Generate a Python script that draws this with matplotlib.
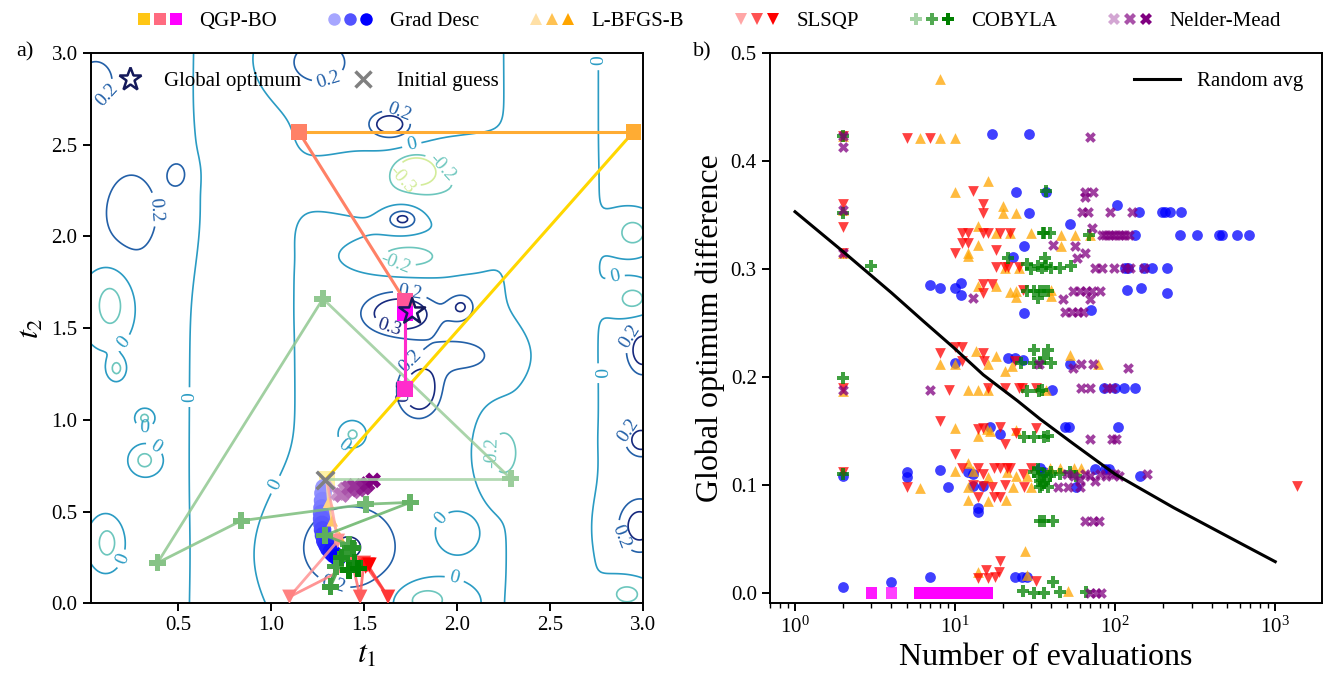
import numpy as np
import matplotlib
matplotlib.use('agg')
import matplotlib.pyplot as plt
from matplotlib.colors import LinearSegmentedColormap, to_rgb
from matplotlib.legend_handler import HandlerTuple
from matplotlib.lines import Line2D
from matplotlib.ticker import FormatStrFormatter

plt.rcParams.update({
    'font.family': 'serif', 'font.serif': ['Liberation Serif', 'DejaVu Serif'],
    'mathtext.fontset': 'stix', 'font.size': 15,
    'axes.linewidth': 1.4,
    'xtick.major.width': 1.4, 'ytick.major.width': 1.4,
    'xtick.minor.width': 1.0, 'xtick.major.size': 6, 'ytick.major.size': 6,
    'xtick.minor.size': 3.5,
})

# ---- landscape features (panel a) ----
# peaks / wells: centre (t1, t2), height, widths
bump_t1 = [0.25, 0.50, 0.05, 1.25, 1.64, 1.71, 1.70, 2.03, 1.80, 2.05, 1.40, 3.00, 2.99, 2.98,
           1.78, 1.80, 1.73, 0.14, 2.25, 1.83, 2.95, 2.95, 0.12, 0.32, 1.44, 1.97, 2.92, 0.17, 0.32,
           0.25, 0.83, 1.60, 2.55, 3.00]
bump_t2 = [2.13, 2.34, 2.85, 2.95, 2.61, 2.10, 1.58, 1.62, 1.15, 1.35, 0.30, 1.38, 0.89, 0.42,
           2.37, 2.28, 1.89, 1.63, 0.82, 0.02, 1.66, 2.02, 0.33, 0.78, 0.92, 0.38, 0.05, 1.28, 1.01,
           1.50, 1.30, 1.50, 1.50, 1.50]
bump_amp = [0.20, 0.22, 0.25, 0.27, 0.36, 0.36, 0.36, 0.25, 0.36, 0.22, 0.28, 0.30, 0.30, 0.30,
            -0.42, -0.26, -0.32, -0.36, -0.30, -0.33, -0.34, -0.34, -0.34, -0.34, -0.30, -0.15,
            -0.30, -0.34, -0.34,
            0.08, -0.08, 0.06, -0.07, 0.08]
bump_s1 = [0.165, 0.045, 0.10, 0.16, 0.09, 0.07, 0.16, 0.06, 0.09, 0.18, 0.26, 0.07, 0.07, 0.10,
           0.07, 0.30, 0.18, 0.08, 0.07, 0.11, 0.08, 0.08, 0.05, 0.05, 0.04, 0.07, 0.08, 0.03, 0.03,
           0.20, 0.17, 0.30, 0.13, 0.14]
bump_s2 = [0.23, 0.06, 0.12, 0.12, 0.06, 0.05, 0.09, 0.06, 0.11, 0.10, 0.22, 0.10, 0.07, 0.12,
           0.05, 0.12, 0.07, 0.14, 0.12, 0.07, 0.07, 0.08, 0.08, 0.05, 0.04, 0.07, 0.06, 0.04, 0.03,
           1.30, 1.20, 1.20, 1.30, 1.30]
contour_levels = [-0.3, -0.2, 0.0, 0.2, 0.3]
contour_colors = ['#d3ec9a', '#6cc6bd', '#2a9bc3', '#2360a8', '#17297e']

# ---- optimiser trajectories (panel a) ----
init_guess = (1.29, 0.67)
global_opt = (1.76, 1.59)
qgp_t1 = [1.30, 2.95, 1.15, 1.72, 1.72, 1.72]
qgp_t2 = [0.68, 2.57, 2.57, 1.65, 1.17, 1.58]
gd_t1 = [1.29, 1.285, 1.28, 1.278, 1.275, 1.273, 1.273, 1.275, 1.278, 1.283, 1.29, 1.30, 1.31, 1.325, 1.34, 1.36]
gd_t2 = [0.66, 0.63, 0.60, 0.56, 0.52, 0.49, 0.46, 0.43, 0.40, 0.37, 0.34, 0.32, 0.30, 0.28, 0.265, 0.25]
lb_t1 = [1.30, 1.31, 1.33, 1.37, 1.41, 1.44]
lb_t2 = [0.68, 0.55, 0.45, 0.36, 0.28, 0.22]
sl_t1 = [1.30, 1.36, 1.10, 1.44, 1.48, 1.50, 1.63, 1.52, 1.51, 1.53]
sl_t2 = [0.68, 0.34, 0.035, 0.21, 0.035, 0.22, 0.035, 0.21, 0.20, 0.21]
co_t1 = [1.30, 2.29, 1.28, 0.39, 0.84, 1.51, 1.75, 1.29, 1.42, 1.35, 1.32, 1.40, 1.44, 1.38, 1.45, 1.42, 1.47]
co_t2 = [0.68, 0.68, 1.66, 0.22, 0.45, 0.54, 0.55, 0.37, 0.32, 0.20, 0.09, 0.27, 0.30, 0.25, 0.22, 0.18, 0.19]
nm_t1 = [1.30, 1.36, 1.40, 1.38, 1.44, 1.42, 1.47, 1.45, 1.50, 1.52, 1.55]
nm_t2 = [0.68, 0.60, 0.62, 0.59, 0.61, 0.63, 0.62, 0.64, 0.63, 0.65, 0.67]

# ---- panel b: (number of evaluations, global optimum difference) ----
qgp_pts = [(3, 0), (4, 0), (6, 0), (7, 0), (8, 0), (9, 0), (10, 0), (11, 0), (12, 0),
           (13, 0), (14, 0), (15, 0), (16, 0)]
gd_pts = [(2, 0.108), (2, 0.006), (4, 0.010), (7, 0.015), (5, 0.112), (5, 0.107), (8, 0.114),
          (9, 0.098), (10, 0.213), (12, 0.112), (13, 0.110), (13, 0.099), (15, 0.099),
          (14, 0.079), (14, 0.075), (16.5, 0.154), (19, 0.147), (21.4, 0.218), (23.7, 0.218),
          (26.4, 0.216), (23.7, 0.015), (26, 0.015), (28, 0.015), (34, 0.116), (36, 0.112),
          (17, 0.425), (29, 0.425), (24, 0.371), (37, 0.371), (29, 0.352), (27, 0.321),
          (23, 0.311), (7, 0.285), (8, 0.282), (10, 0.282), (10.9, 0.287), (10.9, 0.276),
          (27, 0.259), (40.5, 0.188), (52, 0.212), (48.6, 0.154), (51.8, 0.154), (103.5, 0.154),
          (85, 0.19), (100, 0.19), (113, 0.19), (133, 0.19), (75, 0.115), (87, 0.115),
          (91, 0.115), (57, 0.098), (143, 0.108), (103, 0.359), (140, 0.353), (196, 0.353),
          (206, 0.353), (221, 0.353), (256, 0.353), (52, 0.342), (133, 0.331), (255, 0.331),
          (325, 0.331), (443, 0.331), (466, 0.331), (578, 0.331), (684, 0.331), (115, 0.301),
          (120, 0.301), (151, 0.301), (170, 0.301), (212, 0.301), (119, 0.281), (144, 0.282),
          (210, 0.278), (71, 0.262)]
lb_pts = [(2, 0.423), (2, 0.355), (2, 0.315), (2, 0.187), (6, 0.421), (8, 0.421), (10, 0.421),
          (8, 0.476), (16, 0.381), (10, 0.371), (20, 0.358), (20, 0.352), (24, 0.352),
          (14, 0.340), (18, 0.333), (22, 0.333), (30, 0.333), (46, 0.331), (56, 0.331),
          (70, 0.331), (46, 0.321), (14, 0.322), (12, 0.315), (12, 0.312), (20.6, 0.301),
          (25, 0.301), (14, 0.284), (18, 0.284), (22, 0.279), (24, 0.274), (24, 0.280),
          (40, 0.281), (40, 0.275), (8, 0.212), (10, 0.212), (13.6, 0.224), (16, 0.212),
          (18, 0.219), (20.6, 0.206), (22.6, 0.21), (52, 0.220), (78, 0.212), (12, 0.188),
          (14, 0.188), (16, 0.188), (37, 0.188), (10, 0.153), (14, 0.145), (15.8, 0.152),
          (16.5, 0.150), (24, 0.151), (6, 0.097), (10, 0.113), (12, 0.120), (13, 0.113),
          (16, 0.107), (21, 0.112), (24, 0.108), (28, 0.108), (12, 0.098), (23, 0.098),
          (30, 0.098), (39, 0.116), (45, 0.116), (55, 0.116), (61, 0.116), (12, 0.0865),
          (16, 0.085), (20.8, 0.0865), (27.5, 0.039), (14, 0.019), (28, 0.0165), (51, 0.002)]
sl_pts = [(2, 0.423), (2, 0.36), (2, 0.339), (2, 0.315), (2, 0.112), (2, 0.19), (5, 0.421),
          (7, 0.421), (13, 0.372), (15, 0.360), (15, 0.352), (11, 0.333), (12, 0.333),
          (15, 0.333), (16, 0.333), (19, 0.333), (22, 0.333), (11, 0.324), (12, 0.324),
          (10, 0.315), (18, 0.318), (18, 0.302), (20.6, 0.302), (21.4, 0.302), (25.2, 0.302),
          (15, 0.286), (15, 0.278), (17, 0.286), (26.4, 0.281), (8, 0.222), (10, 0.228),
          (11, 0.228), (11, 0.215), (15, 0.222), (15.2, 0.215), (23.7, 0.215), (9.2, 0.188),
          (16, 0.19), (20.6, 0.19), (25, 0.19), (26, 0.19), (32, 0.19), (8, 0.159), (14, 0.152),
          (15, 0.153), (19, 0.154), (20.6, 0.138), (24, 0.148), (32, 0.153), (5, 0.098),
          (10, 0.1285), (11, 0.116), (14, 0.116), (15, 0.110), (17.6, 0.116), (19, 0.116),
          (21, 0.116), (22, 0.116), (26.5, 0.110), (30, 0.116), (13, 0.10), (15, 0.099),
          (17, 0.098), (20.6, 0.1), (27, 0.098), (14, 0.089), (17.5, 0.089), (19, 0.089),
          (19, 0.030), (14, 0.014), (15.7, 0.0215), (16, 0.014), (17.8, 0.015), (18.8, 0.019),
          (32, 0.011), (1360, 0.099)]
co_pts = [(2, 0.423), (2, 0.352), (2, 0.199), (2, 0.110), (3, 0.303), (37, 0.372), (36, 0.333),
          (35.5, 0.333), (39, 0.333), (69, 0.331), (21.4, 0.310), (36.7, 0.310), (28, 0.305),
          (30, 0.300), (33, 0.303), (35, 0.301), (37, 0.303), (40, 0.301), (45, 0.301),
          (53, 0.303), (28, 0.28), (31, 0.28), (34, 0.28), (33, 0.273), (36, 0.28), (38, 0.28),
          (31, 0.225), (38.2, 0.225), (25.7, 0.213), (31, 0.213), (34, 0.213), (36, 0.218),
          (40, 0.213), (28, 0.187), (33.5, 0.187), (35, 0.188), (27, 0.144), (31, 0.144),
          (36, 0.144), (38, 0.145), (31, 0.112), (33, 0.108), (34, 0.104), (35, 0.100),
          (36, 0.110), (37, 0.105), (38, 0.098), (34, 0.098), (36, 0.102), (39, 0.108),
          (40, 0.112), (33, 0.115), (45, 0.110), (52, 0.112), (57, 0.108), (34, 0.067),
          (36, 0.067), (41, 0.067), (26.5, 0.002), (31, 0.0), (36, 0.0), (41, 0.010),
          (45, 0.001), (66, 0.001)]
nm_pts = [(2, 0.423), (2, 0.413), (2, 0.355), (2, 0.315), (2, 0.188), (70, 0.422), (65, 0.371),
          (65, 0.367), (73, 0.371), (61.8, 0.353), (68, 0.353), (93, 0.353), (127, 0.353),
          (71.5, 0.338), (83, 0.331), (87, 0.331), (91, 0.331), (95, 0.331), (100, 0.331),
          (105, 0.331), (110, 0.331), (116, 0.331), (122, 0.331), (41, 0.322), (56, 0.321),
          (65, 0.315), (57.5, 0.310), (75, 0.301), (82.6, 0.301), (97.8, 0.301), (115, 0.301),
          (124, 0.301), (151, 0.301), (13, 0.273), (54.8, 0.28), (60, 0.28), (66, 0.28),
          (72, 0.28), (80, 0.28), (47, 0.272), (70, 0.272), (48.6, 0.26), (53.5, 0.26),
          (58.9, 0.26), (63.3, 0.26), (7, 0.188), (33.5, 0.212), (54.8, 0.2085), (61, 0.212),
          (73, 0.212), (121, 0.2085), (61, 0.19), (70, 0.19), (88.7, 0.19), (95, 0.19),
          (70, 0.143), (95, 0.143), (101, 0.143), (44, 0.098), (51, 0.098), (50, 0.110),
          (55, 0.108), (60, 0.105), (65, 0.110), (70, 0.108), (75, 0.104), (80, 0.110),
          (88, 0.108), (95, 0.110), (100, 0.110), (105, 0.108), (158, 0.110), (60, 0.098),
          (65, 0.067), (73, 0.067), (79, 0.067), (70, 0.0), (76, 0.0), (81, 0.0)]
rand_evals = [1, 2, 4, 6.3, 10, 15, 24.5, 34, 55, 100, 232, 375, 607, 1000]
rand_diff = [0.353, 0.316, 0.278, 0.252, 0.226, 0.202, 0.178, 0.161, 0.138, 0.110, 0.079,
             0.0625, 0.046, 0.029]

methods = ['QGP-BO', 'Grad Desc', 'L-BFGS-B', 'SLSQP', 'COBYLA', 'Nelder-Mead']
markers = ['s', 'o', '^', 'v', 'P', 'X']
base_cols = ['#ff00ff', '#0000ff', '#ffa500', '#ff0000', '#008000', '#800080']


def shade(col, t):
    c = np.array(to_rgb(col))
    return tuple(1 - t * (1 - c))


qgp_cmap = LinearSegmentedColormap.from_list('qgp', ['#ffd700', '#ff00ff'])


def method_colors(i, n):
    ts = np.linspace(0, 1, n)
    if i == 0:
        return [qgp_cmap(t) for t in ts]
    return [shade(base_cols[i], 0.35 + 0.65 * t) for t in ts]


fig = plt.figure(figsize=(13.25, 6.86), dpi=100)
axa = fig.add_axes([0.0685, 0.1206, 0.4166, 0.8022])
axb = fig.add_axes([0.5811, 0.1206, 0.4164, 0.8022])

# ---------------- panel a ----------------
T1, T2 = np.meshgrid(np.linspace(0.0314, 3.0, 300), np.linspace(0.0, 3.0, 300))
Z = np.zeros_like(T1)
for c1, c2, a, s1, s2 in zip(bump_t1, bump_t2, bump_amp, bump_s1, bump_s2):
    Z += a * np.exp(-((T1 - c1) ** 2 / (2 * s1 ** 2) + (T2 - c2) ** 2 / (2 * s2 ** 2)))
cs = axa.contour(T1, T2, Z, levels=contour_levels, colors=contour_colors, linewidths=1.2, zorder=1)
axa.clabel(cs, inline=True, fontsize=14, fmt=lambda v: '0' if abs(v) < 1e-9 else f'{v:.1f}')

paths = [(qgp_t1, qgp_t2), (gd_t1, gd_t2), (lb_t1, lb_t2), (sl_t1, sl_t2), (co_t1, co_t2), (nm_t1, nm_t2)]
msizes = [130, 160, 70, 110, 150, 130]
order = [1, 2, 3, 5, 4, 0]
for z, i in enumerate(order):
    xs, ys = paths[i]
    cols = method_colors(i, len(xs))
    for k in range(len(xs) - 1):
        axa.plot(xs[k:k + 2], ys[k:k + 2], color=cols[k], lw=2.2 if i == 0 else 2.0,
                 alpha=1.0 if i in (0, 1) else 0.85, zorder=3 + z, solid_capstyle='round')
    axa.scatter(xs[1:], ys[1:], s=msizes[i], marker=markers[i], c=cols[1:], linewidths=0,
                zorder=3 + z)
axa.scatter([qgp_t1[0]], [qgp_t2[0]], s=130, marker='s', color=qgp_cmap(0.0), alpha=0.35,
            linewidths=0, zorder=2)

axa.scatter([init_guess[0]], [init_guess[1]], s=160, marker='x', color='#808080', linewidths=2.5, zorder=20)
axa.scatter([global_opt[0]], [global_opt[1]], s=380, marker='*', facecolor='none',
            edgecolor='#14195a', linewidths=1.8, zorder=21)

axa.set_xlim(0.0314, 3.0)
axa.set_ylim(0.0, 3.0)
axa.set_xticks([0.5, 1.0, 1.5, 2.0, 2.5, 3.0])
axa.set_yticks([0.0, 0.5, 1.0, 1.5, 2.0, 2.5, 3.0])
axa.xaxis.set_major_formatter(FormatStrFormatter('%.1f'))
axa.yaxis.set_major_formatter(FormatStrFormatter('%.1f'))
axa.tick_params(labelsize=15)
axa.set_xlabel('$t_1$', fontsize=23)
axa.set_ylabel('$t_2$', fontsize=23)

ha = [Line2D([], [], ls='', marker='*', ms=17, mfc='white', mec='#14195a', mew=1.8),
      Line2D([], [], ls='', marker='x', ms=11, color='#808080', mew=2.5)]
axa.legend(ha, ['Global optimum', 'Initial guess'], loc='upper left', ncol=2, frameon=False,
           fontsize=15, columnspacing=2.0, handletextpad=0.6, bbox_to_anchor=(0.0, 1.0))

# ---------------- panel b ----------------
pts_list = [qgp_pts, gd_pts, lb_pts, sl_pts, co_pts, nm_pts]
bsizes = [64, 60, 60, 60, 70, 60]
for i in [1, 2, 3, 4, 5, 0]:
    ev, df = zip(*pts_list[i])
    if i == 0:
        alphas = [0.9, 0.75] + [1.0] * (len(ev) - 2)
        cols = [(1, 0, 1, a) for a in alphas]
        axb.scatter(ev, df, s=bsizes[i], marker='s', c=cols, linewidths=0, zorder=3)
    else:
        axb.scatter(ev, df, s=bsizes[i], marker=markers[i], color=base_cols[i],
                    alpha=0.75, linewidths=0, zorder=3)
axb.plot(rand_evals, rand_diff, color='black', lw=2.2, label='Random avg', zorder=4)
axb.set_xscale('log')
axb.set_ylim(-0.0095, 0.5)
axb.set_yticks([0.0, 0.1, 0.2, 0.3, 0.4, 0.5])
axb.yaxis.set_major_formatter(FormatStrFormatter('%.1f'))
axb.tick_params(labelsize=15)
axb.set_xlabel('Number of evaluations', fontsize=23)
axb.set_ylabel('Global optimum difference', fontsize=23)
axb.legend(loc='upper right', frameon=False, fontsize=15, handlelength=2.2)

fig.text(0.012, 0.918, 'a)', fontsize=16)
fig.text(0.523, 0.918, 'b)', fontsize=16)

# ---------------- top legend ----------------
handles = []
for i in range(6):
    cols = [qgp_cmap(t) for t in (0.08, 0.5, 1.0)] if i == 0 else \
        [shade(base_cols[i], t) for t in (0.35, 0.68, 1.0)]
    handles.append(tuple(Line2D([], [], ls='', marker=markers[i], ms=9, color=c, mew=0) for c in cols))
fig.legend(handles, methods, loc='upper center', bbox_to_anchor=(0.536, 1.01), ncol=6,
           frameon=False, fontsize=15, handler_map={tuple: HandlerTuple(ndivide=None, pad=0.3)},
           handlelength=2.0, handletextpad=0.9, columnspacing=2.5)

fig.savefig('out.png', dpi=100)
